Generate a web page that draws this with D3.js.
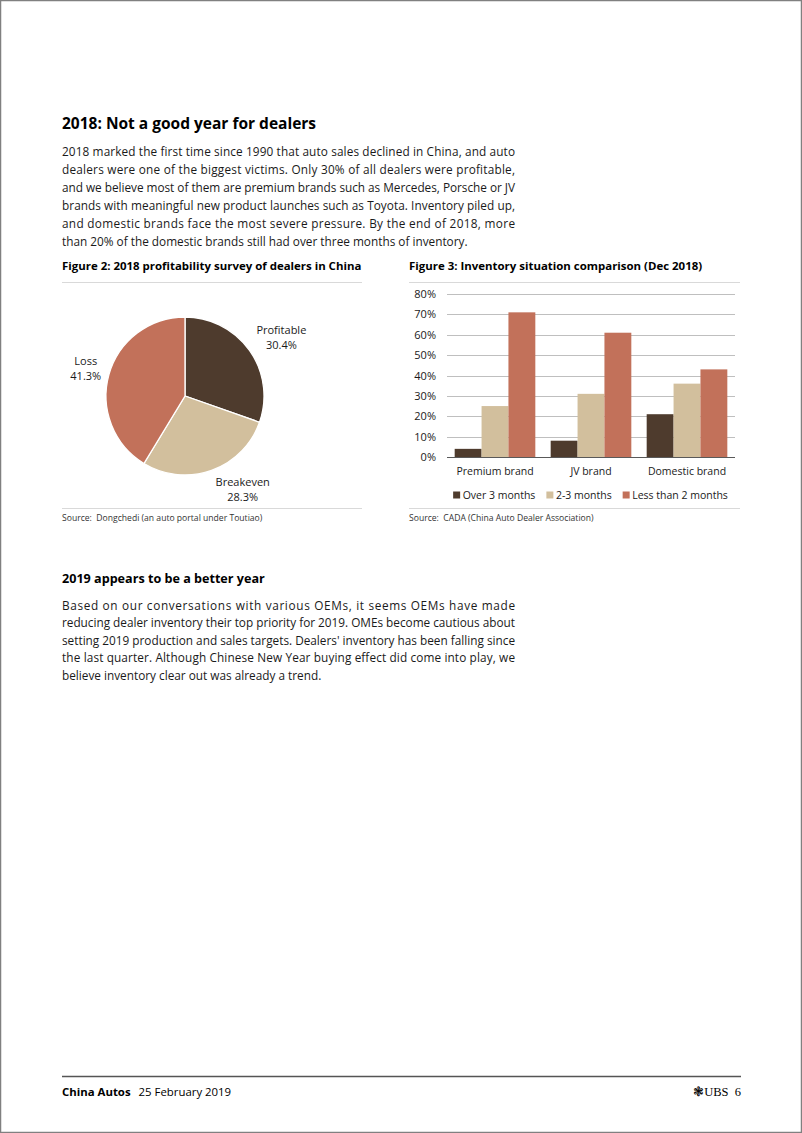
<!DOCTYPE html>
<html><head><meta charset="utf-8">
<script src="https://cdn.jsdelivr.net/npm/d3@7"></script>
<style>
html,body{margin:0;padding:0;background:#fff;}
svg{display:block;font-family:"Open Sans","Noto Sans",sans-serif;}
text{white-space:pre;}
</style></head>
<body>
<svg id="page" width="802" height="1133"></svg>
<script>
// ---------- DATA ----------
const pieCategories = ["Profitable", "Breakeven", "Loss"];
const pieValues = [30.4, 28.3, 41.3];

const barCategories = ["Premium brand", "JV brand", "Domestic brand"];
const seriesNames = ["Over 3 months", "2-3 months", "Less than 2 months"];
const over3Months = [4, 8, 21];
const twoToThreeMonths = [25, 31, 36];
const lessThan2Months = [71, 61, 43];
const yTickValues = [0, 10, 20, 30, 40, 50, 60, 70, 80];

const heading1 = "2018: Not a good year for dealers";
const para1 = [
  "2018 marked the first time since 1990 that auto sales declined in China, and auto",
  "dealers were one of the biggest victims. Only 30% of all dealers were profitable,",
  "and we believe most of them are premium brands such as Mercedes, Porsche or JV",
  "brands with meaningful new product launches such as Toyota. Inventory piled up,",
  "and domestic brands face the most severe pressure. By the end of 2018, more",
  "than 20% of the domestic brands still had over three months of inventory."
];
const heading2 = "2019 appears to be a better year";
const para2 = [
  "Based on our conversations with various OEMs, it seems OEMs have made",
  "reducing dealer inventory their top priority for 2019. OMEs become cautious about",
  "setting 2019 production and sales targets. Dealers' inventory has been falling since",
  "the last quarter. Although Chinese New Year buying effect did come into play, we",
  "believe inventory clear out was already a trend."
];
const fig2Title = "Figure 2: 2018 profitability survey of dealers in China";
const fig3Title = "Figure 3: Inventory situation comparison (Dec 2018)";
const fig2Source = "Source:  Dongchedi (an auto portal under Toutiao)";
const fig3Source = "Source:  CADA (China Auto Dealer Association)";

// ---------- STYLE ----------
const colors = ["#4e3b2d", "#d2bf9d", "#c2715a"];
const textColor = "#1a1a1a";

const svg = d3.select("#page");

// page border
svg.append("rect").attr("x", 0.5).attr("y", 0.5).attr("width", 801).attr("height", 1132)
  .attr("fill", "none").attr("stroke", "#808080").attr("stroke-width", 1.5);

// ---------- PROSE ----------
function paragraph(lines, x, y0, lh, width) {
  const g = svg.append("g");
  lines.forEach((ln, i) => {
    const t = g.append("text").attr("x", x).attr("y", y0 + i * lh)
      .attr("font-size", 11.8).attr("fill", textColor).text(ln);
    if (i < lines.length - 1) t.attr("textLength", width).attr("lengthAdjust", "spacing");
  });
}
svg.append("text").attr("x", 62).attr("y", 129).attr("font-size", 15.5)
  .attr("font-weight", 700).attr("fill", "#000").text(heading1);
paragraph(para1, 62, 155.5, 18, 453);

svg.append("text").attr("x", 62).attr("y", 583).attr("font-size", 12.6)
  .attr("font-weight", 700).attr("fill", "#000").text(heading2);
paragraph(para2, 62, 609.5, 17.6, 453);

// ---------- FIGURE FRAMES ----------
function frame(x1, x2, title, source) {
  svg.append("text").attr("x", x1).attr("y", 270).attr("font-size", 11.45)
    .attr("font-weight", 700).attr("fill", "#000").text(title);
  svg.append("line").attr("x1", x1).attr("x2", x2).attr("y1", 282.5).attr("y2", 282.5)
    .attr("stroke", "#d9d9d9").attr("stroke-width", 1.2);
  svg.append("line").attr("x1", x1).attr("x2", x2).attr("y1", 508.5).attr("y2", 508.5)
    .attr("stroke", "#d9d9d9").attr("stroke-width", 1.2);
  svg.append("text").attr("x", x1).attr("y", 520.5).attr("font-size", 8.6)
    .attr("fill", "#333").text(source);
}
frame(62, 362, fig2Title, fig2Source);
frame(409, 740, fig3Title, fig3Source);

// ---------- PIE ----------
const cx = 185, cy = 396, R = 79;
const pie = d3.pie().sort(null).value(d => d)(pieValues);
const arc = d3.arc().innerRadius(0).outerRadius(R);
const gp = svg.append("g").attr("transform", `translate(${cx},${cy})`);
gp.selectAll("path").data(pie).join("path")
  .attr("d", arc).attr("fill", (d, i) => colors[i])
  .attr("stroke", "#fff").attr("stroke-width", 1.3);

const labelArc = d3.arc().innerRadius(R + 6).outerRadius(R + 6);
pie.forEach((d, i) => {
  const a = (d.startAngle + d.endAngle) / 2;
  const [px, py] = labelArc.centroid(d);
  const lg = gp.append("g");
  const t1 = lg.append("text").attr("text-anchor", "middle").attr("font-size", 11)
    .attr("fill", textColor).text(pieCategories[i]);
  const t2 = lg.append("text").attr("text-anchor", "middle").attr("font-size", 11)
    .attr("fill", textColor).attr("y", 15).text(d3.format(".1f")(d.value) + "%");
  const w = Math.max(t1.node().getComputedTextLength(), t2.node().getComputedTextLength());
  const h = 30;
  const sx = Math.max(-1, Math.min(1, Math.sin(a) * 3.2));
  const sy = -Math.cos(a);
  const lx = px + sx * (w / 2 + 2);
  const ly = py + sy * (h / 2);
  lg.attr("transform", `translate(${lx},${ly - 4})`);
});

// ---------- BARS ----------
const x0 = d3.scaleBand().domain(barCategories).range([447, 735]).paddingInner(0.16).paddingOuter(0.08);
const x1 = d3.scaleBand().domain(seriesNames).range([0, x0.bandwidth()]).padding(0);
const y = d3.scaleLinear().domain([0, 80]).range([457, 294]);
const seriesValues = [over3Months, twoToThreeMonths, lessThan2Months];

const gb = svg.append("g");
gb.append("g").selectAll("line").data(yTickValues.filter(v => v > 0)).join("line")
  .attr("x1", 447).attr("x2", 735).attr("y1", d => Math.round(y(d)) + 0.5).attr("y2", d => Math.round(y(d)) + 0.5)
  .attr("stroke", "#bfbfbf").attr("stroke-width", 1);

const yAxis = d3.axisLeft(y).tickValues(yTickValues).tickFormat(d => d + "%").tickSize(0).tickPadding(11);
const ya = gb.append("g").attr("transform", "translate(447,0)").call(yAxis);
ya.select(".domain").remove();
ya.selectAll("text").attr("font-size", 11).attr("fill", textColor).attr("font-family", "Open Sans");

barCategories.forEach((c, ci) => {
  seriesNames.forEach((s, si) => {
    const v = seriesValues[si][ci];
    gb.append("rect").attr("x", x0(c) + x1(s)).attr("width", x1.bandwidth())
      .attr("y", y(v)).attr("height", y(0) - y(v)).attr("fill", colors[si]);
  });
});

gb.append("line").attr("x1", 447).attr("x2", 735).attr("y1", y(0) + 0.5).attr("y2", y(0) + 0.5)
  .attr("stroke", "#595959").attr("stroke-width", 1.2);

const xAxis = d3.axisBottom(x0).tickSize(0).tickPadding(11);
const xa = gb.append("g").attr("transform", `translate(0,${y(0)})`).call(xAxis);
xa.select(".domain").remove();
xa.selectAll("text").attr("font-size", 10.5).attr("fill", textColor).attr("font-family", "Open Sans");

// legend
const lg = gb.append("g");
let lx = 0;
seriesNames.forEach((s, i) => {
  const it = lg.append("g").attr("transform", `translate(${lx},0)`);
  it.append("rect").attr("x", 0).attr("y", -7.5).attr("width", 7).attr("height", 7).attr("fill", colors[i]);
  const t = it.append("text").attr("x", 9.5).attr("y", 0).attr("font-size", 10.5).attr("fill", textColor).text(s);
  lx += 9.5 + t.node().getComputedTextLength() + 11;
});
lx -= 11;
lg.attr("transform", `translate(${590.5 - lx / 2},499)`);

// ---------- FOOTER ----------
svg.append("line").attr("x1", 62).attr("x2", 741).attr("y1", 1076.5).attr("y2", 1076.5)
  .attr("stroke", "#555").attr("stroke-width", 1.5);
const ft = svg.append("text").attr("x", 62).attr("y", 1096).attr("font-size", 11.4).attr("fill", "#000");
ft.append("tspan").attr("font-weight", 700).text("China Autos");
ft.append("tspan").attr("dx", 8).text("25 February 2019");
svg.append("text").attr("x", 741).attr("y", 1096).attr("text-anchor", "end")
  .attr("font-size", 12.5).attr("fill", "#000").attr("font-family", "Liberation Serif")
  .text("\u2743UBS  6");
</script>
</body></html>
